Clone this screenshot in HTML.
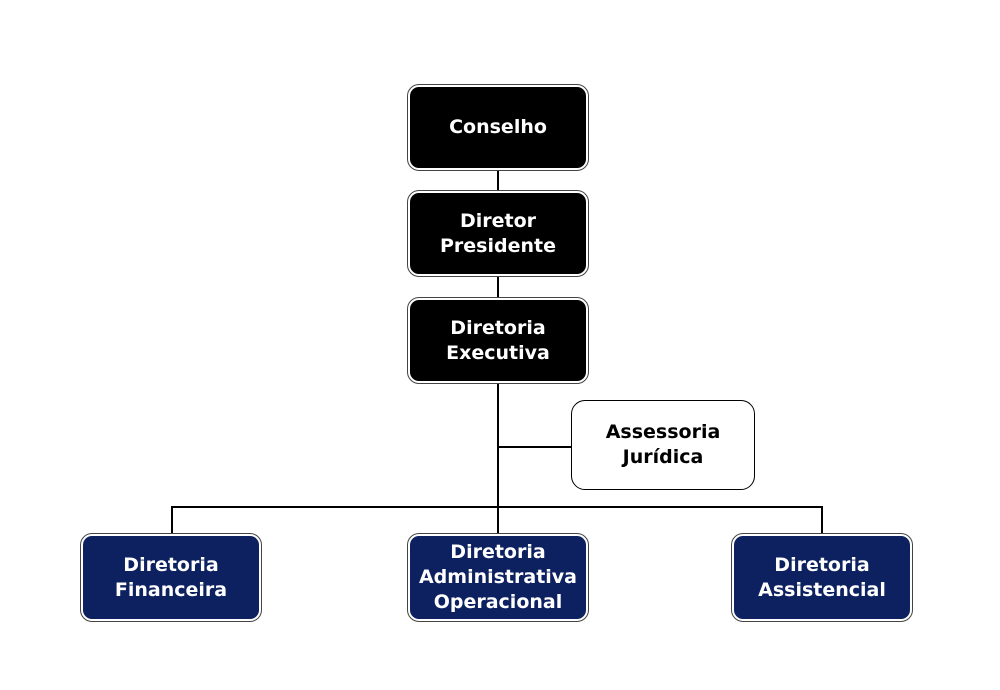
<!DOCTYPE html>
<html><head><style>
body{margin:0;width:1000px;height:690px;background:#fff;position:relative;overflow:hidden;font-family:"DejaVu Sans","Liberation Sans",sans-serif}
.b{position:absolute;box-sizing:border-box;border:1.5px solid #444;border-radius:12px;padding:2px;background:#fff}
.b div{width:100%;height:100%;box-sizing:border-box;border-radius:9px;display:flex;align-items:center;justify-content:center;text-align:center;font-weight:bold;font-size:19px;line-height:25px;color:#fff}
.k div{background:#000}
.n div{background:#0d2160}
.w{position:absolute;box-sizing:border-box;border:1.5px solid #000;border-radius:14px;background:#fff;display:flex;align-items:center;justify-content:center;text-align:center;font-weight:bold;font-size:19px;line-height:25px;color:#000}
.l{position:absolute;background:#000}
</style></head><body>
<div class="l" style="left:497px;top:170px;width:1.5px;height:337px"></div>
<div class="l" style="left:171px;top:506px;width:652px;height:1.5px"></div>
<div class="l" style="left:171px;top:506px;width:1.5px;height:28px"></div>
<div class="l" style="left:821px;top:506px;width:1.5px;height:28px"></div>
<div class="l" style="left:497px;top:506px;width:1.5px;height:28px"></div>
<div class="l" style="left:497px;top:446px;width:75px;height:1.5px"></div>
<div class="b k" style="left:407px;top:84px;width:182px;height:87px"><div>Conselho</div></div>
<div class="b k" style="left:407px;top:190px;width:182px;height:87px"><div>Diretor<br>Presidente</div></div>
<div class="b k" style="left:407px;top:297px;width:182px;height:87px"><div>Diretoria<br>Executiva</div></div>
<div class="w" style="left:571px;top:400px;width:184px;height:90px">Assessoria<br>Jurídica</div>
<div class="b n" style="left:80px;top:533px;width:182px;height:89px"><div>Diretoria<br>Financeira</div></div>
<div class="b n" style="left:407px;top:533px;width:182px;height:89px"><div>Diretoria<br>Administrativa<br>Operacional</div></div>
<div class="b n" style="left:731px;top:533px;width:182px;height:89px"><div>Diretoria<br>Assistencial</div></div>
</body></html>
